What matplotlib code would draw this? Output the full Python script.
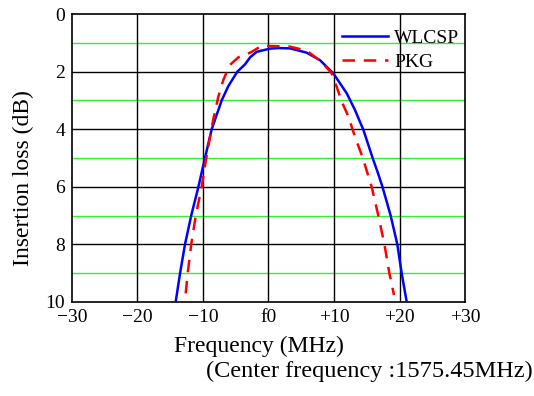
import numpy as np
import matplotlib.pyplot as plt

# WLCSP curve (freq offset MHz, insertion loss dB)
wlcsp_f = [-14.17, -13.5, -12.75, -11.8, -10.7, -9.7, -8.67, -7.15, -6.13, -4.76, -3.6,
           -2.8, -1.8, 0.23, 1.5, 3.28, 5.83, 7.86, 9.9, 11.94, 13.2, 14.5, 15.9,
           16.6, 17.4, 18.65, 19.67, 20.33, 21.1]
wlcsp_il = [10.0, 9.0, 8.0, 7.0, 6.0, 5.0, 4.0, 3.0, 2.5, 2.0, 1.75,
            1.5, 1.31, 1.2, 1.18, 1.19, 1.34, 1.6, 2.06, 2.75, 3.33, 4.03, 5.0,
            5.45, 6.0, 7.0, 8.0, 9.0, 10.0]

# PKG curve
pkg_f = [-12.64, -12.33, -11.8, -11.1, -10.2, -9.6, -9.1, -8.4, -7.66, -6.9, -5.9,
         -4.6, -3.6, -2.56, -1.04, 0.23, 3.28, 5.83, 8.1, 9.65, 10.4, 11.2, 12.2,
         13.2, 14.4, 15.75, 16.77, 17.7, 18.45, 19.16]
pkg_il = [9.7, 9.0, 8.0, 7.0, 6.0, 5.13, 4.49, 3.62, 2.87, 2.29, 1.77,
          1.5, 1.42, 1.31, 1.1, 1.11, 1.13, 1.27, 1.66, 2.06, 2.52, 3.05, 3.56,
          4.26, 5.0, 6.0, 7.0, 8.0, 9.0, 9.76]

x_ticks = [-30, -20, -10, 0, 10, 20, 30]
x_labels = ['\u221230', '\u221220', '\u221210', 'f0', '+10', '+20', '+30']
y_ticks = [0, 2, 4, 6, 8, 10]

plt.rcParams['font.family'] = ['Liberation Serif', 'DejaVu Serif']

fig = plt.figure(figsize=(5.34, 3.96), dpi=100)
ax = fig.add_axes([0.1348, 0.2374, 0.736, 0.727])

# grid: green at odd dB, black at major ticks
for y in [1, 3, 5, 7, 9]:
    ax.axhline(y, color='#33ee33', lw=1.0, zorder=1)
for y in y_ticks[1:-1]:
    ax.axhline(y, color='black', lw=1.0, zorder=1)
for x in x_ticks[1:-1]:
    ax.axvline(x, color='black', lw=1.0, zorder=1)

ax.plot(wlcsp_f, wlcsp_il, color='#0000ff', lw=1.8, label='WLCSP', zorder=3)
ax.plot(pkg_f, pkg_il, color='#ff0000', lw=1.8, ls=(0, (5, 3.5)), label='PKG', zorder=3)

ax.set_xlim(-30, 30)
ax.set_ylim(10, 0)
ax.set_xticks(x_ticks)
ax.set_xticklabels(x_labels)
ax.set_yticks(y_ticks)
ax.tick_params(direction='in', length=0, labelsize=14, pad=5)
for s in ax.spines.values():
    s.set_linewidth(1.2)

ax.set_xlabel('Frequency (MHz)', fontsize=17)
ax.set_ylabel('Insertion loss (dB)', fontsize=17)
ax.xaxis.set_label_coords(0.476, -0.118)
ax.yaxis.set_label_coords(-0.097, 0.43)

leg = ax.legend(loc='upper right', bbox_to_anchor=(1.005, 0.975), frameon=False,
                fontsize=14, handlelength=2.4, borderaxespad=0.0,
                labelspacing=0.35, handletextpad=0.3)

fig.text(0.998, 0.061, '(Center frequency :1575.45MHz)', ha='right', va='center', fontsize=17.5)

fig.savefig('out.png', dpi=100)
